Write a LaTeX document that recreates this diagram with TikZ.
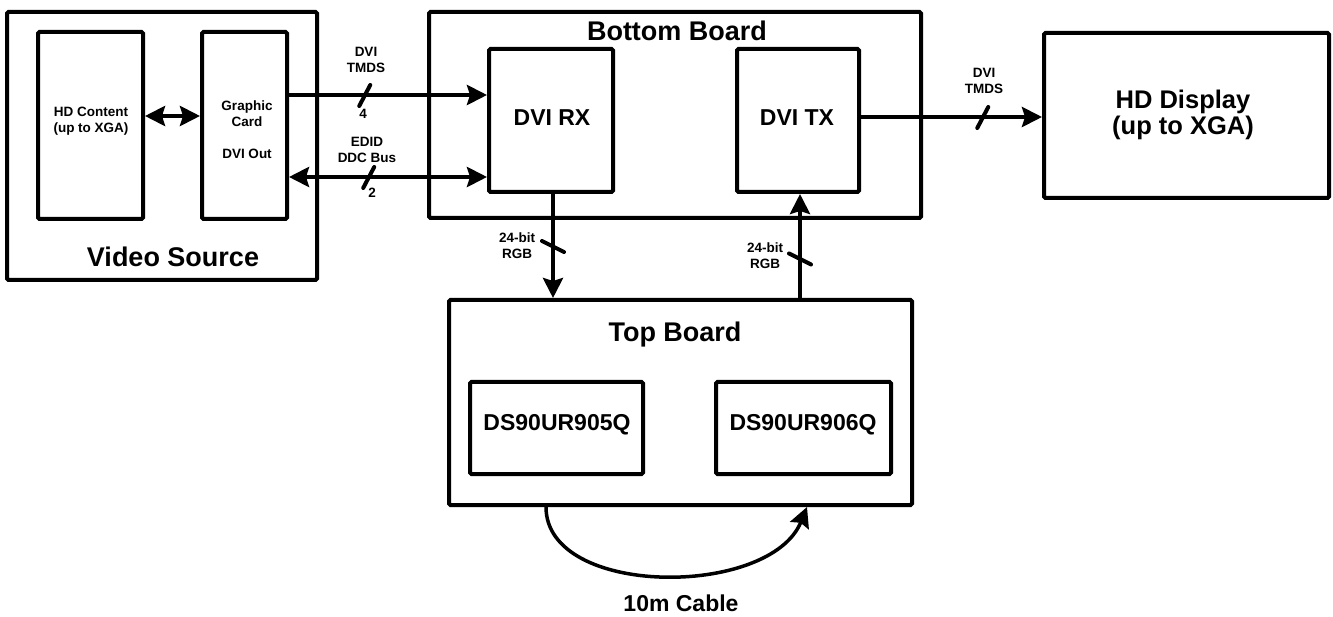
\documentclass[tikz,border=0pt]{standalone}
\usepackage{fontspec}
\setmainfont{Liberation Sans}
\usetikzlibrary{arrows.meta,calc}
\begin{document}
\begin{tikzpicture}[x=1pt,y=-1pt,
  box/.style={draw,line width=4pt,rounded corners=1.5pt,fill=white,inner sep=0pt},
  big/.style={font=\fontsize{27}{30}\selectfont\bfseries},
  mid/.style={font=\fontsize{23}{25}\selectfont\bfseries},
  small/.style={font=\fontsize{13.5}{16}\selectfont\bfseries,align=center,inner sep=0pt},
  wire/.style={line width=4pt},
  tip/.style={-{Stealth[length=20pt,width=20pt,inset=3pt]}},
  tips/.style={{Stealth[length=20pt,width=20pt,inset=3pt]}-{Stealth[length=20pt,width=20pt,inset=3pt]}},
  bus/.style={line width=4pt,line cap=round}]
\useasboundingbox (0,0) rectangle (1333,617);

% outer boxes
\node[box,minimum width=310pt,minimum height=268pt] (vs) at (162,146) {};
\node[box,minimum width=492pt,minimum height=206pt] (bb) at (675,115) {};
\node[box,minimum width=285pt,minimum height=165pt] (hdd) at (1186.5,115.5) {};
\node[box,minimum width=463pt,minimum height=205pt] (tb) at (680.5,402.5) {};

% inner boxes
\node[box,minimum width=105pt,minimum height=187pt] (hdc) at (90.5,125.5) {};
\node[box,minimum width=85pt,minimum height=187pt] (gc) at (244.5,125.5) {};
\node[box,minimum width=124pt,minimum height=143pt] (rx) at (551,120.5) {};
\node[box,minimum width=122pt,minimum height=143pt] (tx) at (798,120.5) {};
\node[box,minimum width=173pt,minimum height=92pt] (s905) at (556.5,428) {};
\node[box,minimum width=175pt,minimum height=92pt] (s906) at (803.5,428) {};

% texts
\node[big] (vst) at (173,257) {Video Source};
\node[big] (bbt) at (677,31) {Bottom Board};
\node[big] (tbt) at (675,335) {Top Board};
\node[align=center,font=\fontsize{25.5}{26.5}\selectfont\bfseries] (hddt) at (1183,115) {HD Display\\(up to XGA)};
\node[mid] (rxt) at (552,118) {DVI RX};
\node[mid] (txt) at (797,118) {DVI TX};
\node[mid] (s905t) at (557,425) {DS90UR905Q};
\node[mid] (s906t) at (803,425) {DS90UR906Q};
\node[mid] (cab) at (681,603) {10m Cable};
\node[small] (hdct) at (91,121) {HD Content\\(up to XGA)};
\node[small] (gct) at (247,130) {Graphic\\Card\\[16pt]DVI Out};
\node[small] (l1) at (366,59.5) {DVI\\TMDS};
\node[small] (l2) at (363,114) {4};
\node[small] (l3) at (367,150) {EDID\\DDC Bus};
\node[small] (l4) at (372,193) {2};
\node[small] (l5) at (984,80.5) {DVI\\TMDS};
\node[small] (l6) at (517,246) {24-bit\\RGB};
\node[small] (l7) at (765,256) {24-bit\\RGB};

% connectors
\draw[wire,tips] ([yshift=9.5pt]hdc.east) -- ([yshift=9.5pt]gc.west);
\draw[wire,tip] ([yshift=30.5pt]gc.east) -- ([yshift=30.5pt]gc.east -| rx.west)
  coordinate[pos=0.38] (s1);
\draw[wire,tips] ([yshift=-51.5pt]gc.east) -- ([yshift=-51.5pt]gc.east -| rx.west)
  coordinate[pos=0.4] (s2);
\draw[wire,tip] ([yshift=3.5pt]tx.east) -- ([yshift=3.5pt]tx.east -| hdd.west)
  coordinate[pos=0.67] (s3);
\draw[wire,tip] ([xshift=2pt]rx.south) -- ([xshift=2pt]rx.south |- tb.north)
  coordinate[pos=0.5] (s4);
\draw[wire,tip] ([xshift=2pt]tx.south |- tb.north) -- ([xshift=2pt]tx.south)
  coordinate[pos=0.38] (s5);
\draw[line width=3.5pt,tip] ([xshift=-134.5pt]tb.south) .. controls (546,598) and (770,598) .. ([xshift=126.5pt]tb.south);

% bus slashes
\draw[bus] (s1) ++(-5,11) -- ++(11,-21);
\draw[bus] (s2) ++(-5,11) -- ++(11,-21);
\draw[bus] (s3) ++(-5,11) -- ++(11,-21);
\draw[bus] (s4) ++(-11,-5) -- ++(22,11);
\draw[bus] (s5) ++(-11,-5) -- ++(22,11);
\end{tikzpicture}
\end{document}
